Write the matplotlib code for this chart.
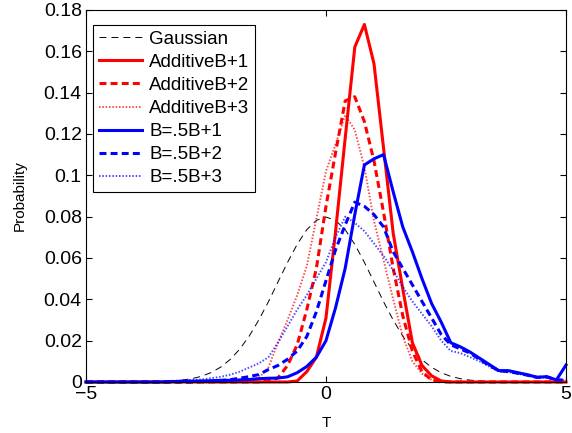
import numpy as np
import matplotlib
matplotlib.use("Agg")
import matplotlib.pyplot as plt
from matplotlib.ticker import FormatStrFormatter

plt.rcParams['font.family'] = ['Liberation Sans', 'DejaVu Sans']
plt.rcParams['lines.scale_dashes'] = False

# bin centres of the histogram (T axis)
t = np.linspace(-5, 5, 51)

gauss = [0, 0, 0, 0, 0, 0, 0,
         0.0001, 0.0002, 0.0005, 0.0009, 0.0016, 0.0027, 0.0045, 0.0071, 0.0108,
         0.0158, 0.0222, 0.0300, 0.0388, 0.0484, 0.0579, 0.0666, 0.0737, 0.0782,
         0.0798,
         0.0782, 0.0737, 0.0666, 0.0579, 0.0484, 0.0388, 0.0300, 0.0222, 0.0158,
         0.0108, 0.0071, 0.0045, 0.0027, 0.0016, 0.0009, 0.0005, 0.0002, 0.0001,
         0, 0, 0, 0, 0, 0, 0]

add1 = [0] * 22 + [0.0005, 0.005, 0.012,
                   0.031, 0.073, 0.118, 0.162, 0.173, 0.154, 0.113, 0.072, 0.045,
                   0.019, 0.008, 0.003, 0.0005] + [0] * 13

add2 = [0] * 19 + [0.0005, 0.002, 0.008, 0.018, 0.035, 0.055,
                   0.085, 0.111, 0.136, 0.138, 0.126, 0.107, 0.082, 0.055, 0.032,
                   0.015, 0.005, 0.001] + [0] * 14

add3 = [0] * 16 + [0.0005, 0.001, 0.002, 0.007, 0.019, 0.030, 0.042, 0.056, 0.079,
                   0.102, 0.115, 0.129, 0.122, 0.104, 0.078, 0.059, 0.040, 0.022,
                   0.010, 0.004, 0.001, 0.0003] + [0] * 13

b1 = [0] * 9 + [0.0002, 0.0003, 0.0004, 0.0005, 0.0006, 0.0008, 0.0008, 0.001,
                0.0012, 0.0016, 0.0018, 0.0019, 0.0025, 0.0045, 0.0075, 0.012,
                0.020, 0.036, 0.055, 0.081, 0.105, 0.108, 0.110, 0.092, 0.075,
                0.063, 0.050, 0.038, 0.029, 0.019, 0.017, 0.0145, 0.0115, 0.0085,
                0.0055, 0.0055, 0.0045, 0.0035, 0.0023, 0.0026, 0.001, 0.0082]

b2 = [0] * 12 + [0.0002, 0.0004, 0.0007, 0.0011, 0.0018, 0.0026, 0.0036, 0.006,
                 0.008, 0.011, 0.015, 0.022, 0.034,
                 0.049, 0.064, 0.076, 0.087, 0.085, 0.081, 0.075, 0.063, 0.055,
                 0.047, 0.039, 0.031, 0.023, 0.018, 0.016, 0.014, 0.011, 0.008,
                 0.0055, 0.005, 0.0042, 0.0033, 0.0022, 0.0024, 0.001, 0.001]

b3 = [0] * 6 + [0.0001, 0.0002, 0.0003, 0.0005, 0.0008, 0.001, 0.0012, 0.0018,
                0.0025, 0.0035, 0.005, 0.007, 0.009, 0.012, 0.019, 0.027, 0.035,
                0.042, 0.050,
                0.058, 0.070, 0.080, 0.077, 0.073, 0.067, 0.061, 0.054, 0.046,
                0.039, 0.033, 0.027, 0.020, 0.015, 0.014, 0.012, 0.010, 0.0075,
                0.005, 0.0048, 0.004, 0.003, 0.002, 0.0022, 0.001, 0.001]

labels = ["Gaussian", "AdditiveB+1", "AdditiveB+2", "AdditiveB+3",
          "B=.5B+1", "B=.5B+2", "B=.5B+3"]

fig = plt.figure(figsize=(5.72, 4.33), dpi=100)
ax = fig.add_axes([0.1503, 0.1178, 0.8392, 0.8592])

dash = (0, (5, 3))
dot = (0, (1.1, 1.3))
ax.plot(t, gauss, color="k", lw=0.7, linestyle=(0, (5, 3.6)), label=labels[0], clip_on=False)
ax.plot(t, add1, color="red", lw=2.2, label=labels[1], clip_on=False)
ax.plot(t, add2, color="red", lw=2.2, linestyle=dash, label=labels[2], clip_on=False)
ax.plot(t, add3, color="red", lw=1.4, alpha=0.7, linestyle=dot, label=labels[3], clip_on=False)
ax.plot(t, b1, color="blue", lw=2.2, label=labels[4], clip_on=False)
ax.plot(t, b2, color="blue", lw=2.2, linestyle=dash, label=labels[5], clip_on=False)
ax.plot(t, b3, color="blue", lw=1.4, alpha=0.7, linestyle=dot, label=labels[6], clip_on=False)

ax.set_xlim(-5, 5)
ax.set_ylim(0, 0.18)
ax.set_xticks([-5, 0, 5])
ax.set_yticks(np.arange(0, 0.181, 0.02))
ax.yaxis.set_major_formatter(FormatStrFormatter('%g'))
ax.tick_params(direction="in", top=True, right=True, length=4, width=0.8,
               labelsize=14, pad=3)
for s in ax.spines.values():
    s.set_linewidth(0.8)
ax.set_xlabel("T", fontsize=11, labelpad=9)
ax.set_ylabel("Probability", fontsize=11, labelpad=12)

leg = ax.legend(loc="upper left", bbox_to_anchor=(93 / 572, 1 - 25 / 433),
                bbox_transform=fig.transFigure, fontsize=13.5, frameon=True,
                fancybox=False, framealpha=1, edgecolor="k", borderpad=0.3,
                handlelength=2.3, handletextpad=0.4, labelspacing=0.32,
                borderaxespad=0)
leg.get_frame().set_linewidth(0.8)

fig.savefig("out.png", dpi=100)
